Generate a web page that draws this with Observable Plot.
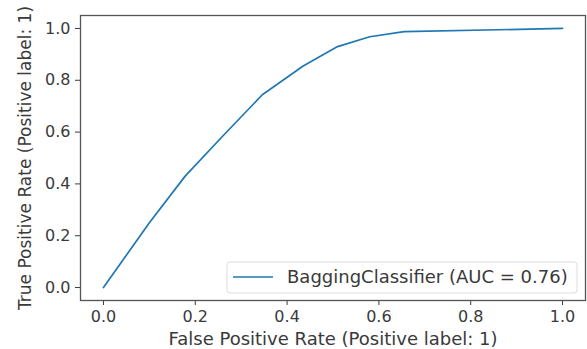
<!DOCTYPE html>
<html><head><meta charset="utf-8">
<script src="https://cdn.jsdelivr.net/npm/d3@7"></script>
<script src="https://cdn.jsdelivr.net/npm/@observablehq/plot@0.6"></script>
<style>body{margin:0;background:#fff;} svg{display:block;}</style>
</head><body><div id="chart"></div>
<script>
const fpr = [0.0, 0.10, 0.178, 0.26, 0.346, 0.435, 0.51, 0.58, 0.655, 1.0];
const tpr = [0.0, 0.25, 0.43, 0.585, 0.744, 0.855, 0.93, 0.968, 0.988, 1.0];
const ticks = [0, 0.2, 0.4, 0.6, 0.8, 1.0];
const seriesName = "BaggingClassifier (AUC = 0.76)";
const xLabel = "False Positive Rate (Positive label: 1)";
const yLabel = "True Positive Rate (Positive label: 1)";
const data = fpr.map((x, i) => ({x, y: tpr[i]}));
const font = "DejaVu Sans, sans-serif";

const plot = Plot.plot({
  width: 587, height: 349,
  marginLeft: 80, marginRight: 2, marginTop: 15, marginBottom: 49,
  style: {fontFamily: font, fontSize: "16px", color: "#3a3a3a", background: "#fff"},
  x: {domain: [-0.05, 1.05]},
  y: {domain: [-0.05, 1.05]},
  marks: [
    Plot.axisX({ticks, tickFormat: d3.format(".1f"), tickSize: 5, tickPadding: 5, fontSize: 16, label: null}),
    Plot.axisX({ticks: [], label: xLabel, labelAnchor: "center", labelArrow: "none", labelOffset: 44, fontSize: 18}),
    Plot.axisY({ticks, tickFormat: d3.format(".1f"), tickSize: 5, tickPadding: 5, fontSize: 16, label: null}),
    Plot.axisY({ticks: [], label: yLabel, labelAnchor: "center", labelArrow: "none", labelOffset: 62, fontSize: 17}),
    Plot.line(data, {x: "x", y: "y", stroke: "#1f77b4", strokeWidth: 1.7}),
    Plot.frame({stroke: "#555", strokeWidth: 1.3})
  ]
});

// legend box inside axes, lower right
const svg = d3.select(plot);
const g = svg.append("g").attr("font-family", font).attr("font-size", 18).attr("text-anchor", "start");
g.append("rect").attr("x", 227).attr("y", 262).attr("width", 350).attr("height", 31)
  .attr("rx", 3).attr("fill", "#fff").attr("stroke", "#ddd");
g.append("line").attr("x1", 233).attr("x2", 273).attr("y1", 277).attr("y2", 277)
  .attr("stroke", "#1f77b4").attr("stroke-width", 1.7);
g.append("text").attr("x", 287).attr("y", 277).attr("dy", "0.35em").attr("fill", "#3a3a3a").text(seriesName);

document.getElementById("chart").appendChild(plot);
</script></body></html>
